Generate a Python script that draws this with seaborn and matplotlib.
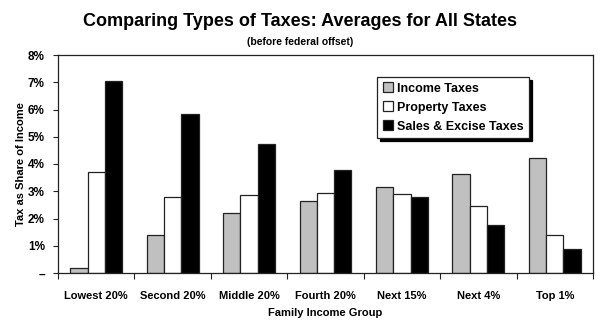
import matplotlib
matplotlib.use("Agg")
import matplotlib.pyplot as plt
import seaborn as sns
import pandas as pd

groups = ["Lowest 20%", "Second 20%", "Middle 20%", "Fourth 20%", "Next 15%", "Next 4%", "Top 1%"]
income_taxes = [0.2, 1.4, 2.19, 2.65, 3.15, 3.64, 4.22]
property_taxes = [3.7, 2.78, 2.86, 2.92, 2.89, 2.45, 1.38]
sales_taxes = [7.05, 5.85, 4.72, 3.77, 2.79, 1.75, 0.88]
series_names = ["Income Taxes", "Property Taxes", "Sales & Excise Taxes"]
ytick_labels = ["–", "1%", "2%", "3%", "4%", "5%", "6%", "7%", "8%"]

rows = []
for name, vals in zip(series_names, [income_taxes, property_taxes, sales_taxes]):
    for g, v in zip(groups, vals):
        rows.append({"Group": g, "Tax": name, "Value": v})
df = pd.DataFrame(rows)

sns.set_style("white")
plt.rcParams["font.family"] = ["Liberation Sans", "DejaVu Sans"]
plt.rcParams.update({"text.color": "black", "axes.labelcolor": "black",
                     "xtick.color": "black", "ytick.color": "black"})

fig = plt.figure(figsize=(6.0, 3.23), dpi=100)
ax = fig.add_axes([58/600, 1-273/323, (593-58)/600, (273-55)/323])

palette = {"Income Taxes": "#c0c0c0", "Property Taxes": "#ffffff", "Sales & Excise Taxes": "#000000"}
sns.barplot(data=df, x="Group", y="Value", hue="Tax", palette=palette, width=0.68,
            edgecolor="#222222", linewidth=0.9, ax=ax, saturation=1, legend=True)

ax.set_xlim(-0.5, len(groups)-0.5)
ax.set_ylim(0, 8)
ax.set_yticks(range(9))
ax.set_yticklabels(ytick_labels, fontsize=8.5, fontweight="bold")
ax.set_xticks(range(len(groups)))
ax.set_xticklabels(groups, fontsize=8, fontweight="bold")
ax.set_xticks([i - 0.5 for i in range(len(groups)+1)], minor=True)
ax.tick_params(axis="x", which="major", length=0, pad=13)
ax.tick_params(axis="x", which="minor", length=4, width=0.8, color="#222222", direction="out", bottom=True)
ax.tick_params(axis="y", length=3.5, width=0.8, color="#222222", direction="out", left=True, pad=6)
for s in ax.spines.values():
    s.set_color("#222222")
    s.set_linewidth(0.9)
ax.set_xlabel("Family Income Group", fontsize=8, fontweight="bold", labelpad=5)
ax.set_ylabel("Tax as Share of Income", fontsize=8, fontweight="bold", labelpad=1)

leg = ax.legend(loc="upper left", bbox_to_anchor=(0.597, 0.90),
                prop={"weight": "bold", "size": 9}, frameon=True, fancybox=False,
                shadow={"color": "black", "alpha": 1}, handlelength=0.8, handleheight=0.8,
                handletextpad=0.3, labelspacing=0.55, borderpad=0.45, borderaxespad=0)
leg.get_frame().set_edgecolor("#222222")
leg.get_frame().set_linewidth(0.9)
leg.get_frame().set_alpha(1)

fig.text(0.5, 1-22/323, "Comparing Types of Taxes: Averages for All States", ha="center", va="center",
         fontsize=13, fontweight="bold")
fig.text(0.5, 1-42/323, "(before federal offset)", ha="center", va="center",
         fontsize=7.5, fontweight="bold")

fig.savefig("out.png", dpi=100)
